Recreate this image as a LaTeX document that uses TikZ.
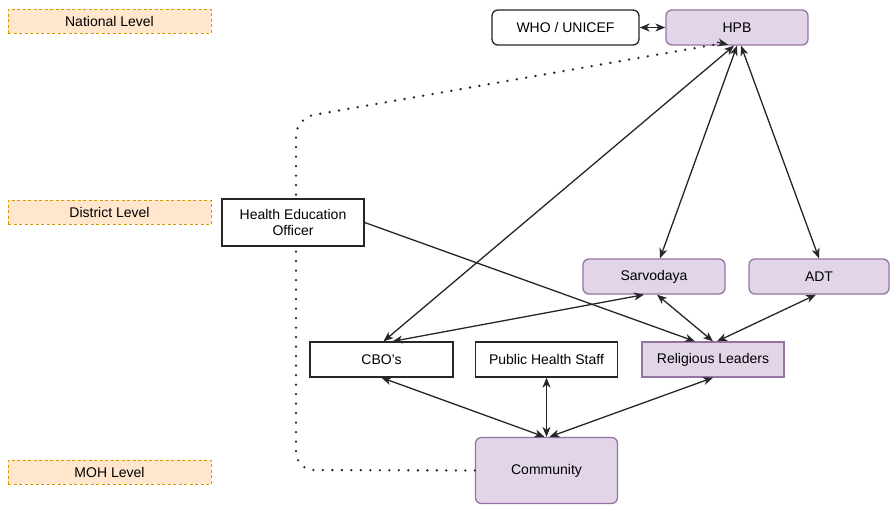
\documentclass[tikz,border=0pt]{standalone}
\usepackage{fontspec}
\setmainfont{Liberation Sans}
\usetikzlibrary{arrows.meta}
\definecolor{pfill}{HTML}{E1D5E7}
\definecolor{pline}{HTML}{9673A6}
\definecolor{ofill}{HTML}{FFE6CC}
\definecolor{oline}{HTML}{D79B00}
\begin{document}
\begin{tikzpicture}[x=1pt,y=-1pt,
  every node/.style={font=\fontsize{14}{16}\selectfont, align=center, inner sep=2pt},
  level/.style={draw=oline, fill=ofill, dash pattern=on 3pt off 2.5pt, line width=1pt, minimum width=203pt, minimum height=24pt},
  wbox/.style={draw=black!85, fill=white, line width=1.3pt, minimum width=142pt, minimum height=35pt},
  pbox/.style={draw=pline, fill=pfill, line width=1.3pt, minimum width=142pt, minimum height=35pt},
  rnd/.style={rounded corners=6pt},
  tip/.tip={Stealth[length=10pt,width=8pt,inset=3pt]},
  conn/.style={line width=1.3pt, draw=black!85, tip-tip},
  oneway/.style={line width=1.3pt, draw=black!85, -tip},
  dots/.style={line width=2.6pt, line cap=round, dash pattern=on 0pt off 9.5pt, draw=black!85}
]
\useasboundingbox (0,0) rectangle (890,504);
\coordinate (dcA) at (296,470);
\coordinate (dcB) at (296,118);
\node[level] (nat) at (109.5,21) {National Level};
\node[level] (dist) at (109.5,212) {District Level};
\node[level] (moh) at (109.5,472) {MOH Level};
\node[pbox,rnd, minimum height=66pt] (com) at (546.5,470.5) {Community};
\node[pbox,rnd] (hpb) at (737,27.5) {HPB};
% dotted line behind the HEO box
\draw[dots, rounded corners=18pt] (com.west) -- (dcA) -- (dcB) -- ([xshift=-14pt,yshift=2.5pt]hpb.south);
\draw[line width=1.3pt, draw=black!85, -tip] ([xshift=-20pt,yshift=3.5pt]hpb.south) -- ([xshift=-9pt,yshift=1pt]hpb.south);
\node[wbox,rnd, minimum width=147pt] (who) at (565.5,27.5) {WHO / UNICEF};
\node[wbox, minimum height=47pt] (heo) at (293,222.5) {Health Education\\Officer};
\node[pbox,rnd] (sar) at (654,276.5) {Sarvodaya};
\node[pbox,rnd, minimum width=140pt] (adt) at (819,276.5) {ADT};
\node[wbox, minimum width=143pt] (cbo) at (381.5,359.5) {CBO's};
\node[wbox] (phs) at (546.5,359.5) {Public Health Staff};
\node[pbox] (rl) at (713,359.5) {Religious Leaders};
% connectors
\draw[conn] (who.east) -- (hpb.west);
\draw[conn] ([xshift=-3pt]hpb.south) -- ([xshift=2pt]cbo.north);
\draw[conn] ([xshift=0pt]hpb.south) -- ([xshift=6pt]sar.north);
\draw[conn] ([xshift=4pt]hpb.south) -- (adt.north);
\draw[conn] ([xshift=11pt]cbo.north) -- ([xshift=-10pt]sar.south);
\draw[conn] ([xshift=3pt]sar.south) -- (rl.north);
\draw[conn] ([xshift=-3pt]adt.south) -- ([xshift=4pt]rl.north);
\draw[oneway] (heo.east) -- ([xshift=-18pt]rl.north);
\draw[conn] (cbo.south) -- ([xshift=-2pt]com.north);
\draw[conn] (phs.south) -- (com.north);
\draw[conn] (rl.south) -- ([xshift=3pt]com.north);
\end{tikzpicture}
\end{document}
